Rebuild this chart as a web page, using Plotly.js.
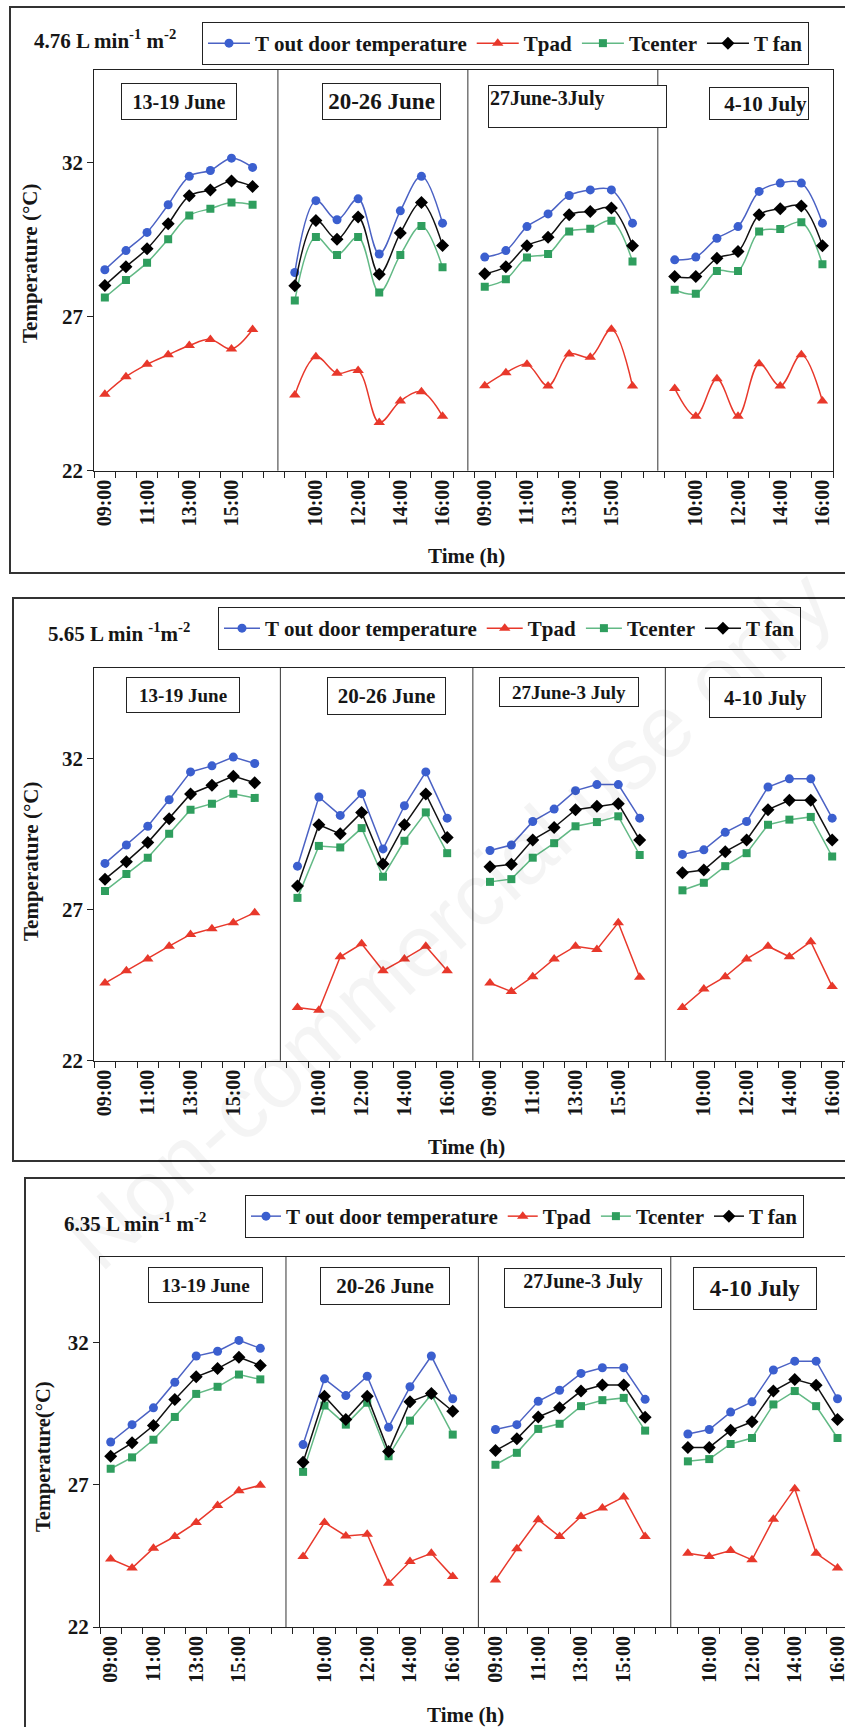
<!DOCTYPE html>
<html>
<head>
<meta charset="utf-8">
<script src="https://cdn.plot.ly/plotly-3.0.1.min.js"></script>
<style>html,body{margin:0;padding:0;background:#fff;}#chart{width:845px;height:1727px;}</style>
</head>
<body>
<div id="chart"></div>
<script>
// ---------------- DATA ----------------
const hours = ['09:00','10:00','11:00','12:00','13:00','14:00','15:00','16:00'];
const seriesNames = ['T out door temperature','Tpad','Tcenter','T fan'];
const panelTitles = [
  '4.76 L min<sup>-1</sup> m<sup>-2</sup>',
  '5.65 L min <sup>-1</sup>m<sup>-2</sup>',
  '6.35 L min<sup>-1</sup> m<sup>-2</sup>'
];
const weekLabels1 = ['13-19 June','20-26 June','27June-3July','4-10 July'];
const weekLabels2 = ['13-19 June','20-26 June','27June-3 July','4-10 July'];
const weekLabels3 = ['13-19 June','20-26 June','27June-3 July','4-10 July'];
const yTitles = ['Temperature (°C)','Temperature (°C)','Temperature(°C)'];
const xTitle = 'Time (h)';
const yTicks = [22, 27, 32];

// Panel 1 : 4.76 L min-1 m-2  (each row = one week, 09:00..16:00)
const p1_out = [
  [28.52,29.14,29.73,30.63,31.55,31.74,32.14,31.84],
  [28.43,30.76,30.14,30.82,29.03,30.43,31.55,30.03],
  [28.93,29.14,29.92,30.33,30.93,31.11,31.11,30.03],
  [28.84,28.93,29.54,29.92,31.06,31.33,31.33,30.03]];
const p1_pad = [
  [24.48,25.05,25.45,25.76,26.06,26.26,25.95,26.58],
  [24.46,25.70,25.16,25.25,23.56,24.26,24.56,23.77],
  [24.76,25.18,25.45,24.75,25.79,25.68,26.59,24.75],
  [24.67,23.77,24.98,23.77,25.47,24.75,25.76,24.26]];
const p1_center = [
  [27.62,28.19,28.75,29.51,30.28,30.50,30.70,30.63],
  [27.52,29.58,29.00,29.58,27.78,29.00,29.94,28.60],
  [27.97,28.21,28.92,29.03,29.76,29.85,30.11,28.79],
  [27.87,27.74,28.48,28.48,29.76,29.84,30.06,28.70]];
const p1_fan = [
  [28.01,28.62,29.20,30.01,30.92,31.11,31.40,31.22],
  [28.00,30.12,29.51,30.23,28.37,29.71,30.70,29.31],
  [28.39,28.62,29.30,29.57,30.30,30.41,30.52,29.30],
  [28.30,28.30,28.89,29.11,30.30,30.50,30.59,29.30]];

// Panel 2 : 5.65 L min-1 m-2
const p2_out = [
  [28.53,29.14,29.76,30.64,31.56,31.76,32.05,31.84],
  [28.44,30.73,30.12,30.84,29.01,30.44,31.56,30.03],
  [28.96,29.14,29.92,30.33,30.94,31.14,31.14,30.03],
  [28.83,28.98,29.56,29.92,31.06,31.33,31.33,30.03]];
const p2_pad = [
  [24.57,24.98,25.37,25.79,26.18,26.37,26.57,26.90],
  [23.76,23.67,25.44,25.87,24.98,25.37,25.79,24.98],
  [24.57,24.29,24.78,25.37,25.79,25.68,26.57,24.76],
  [23.76,24.37,24.78,25.37,25.79,25.44,25.94,24.46]];
const p2_center = [
  [27.62,28.18,28.72,29.51,30.31,30.51,30.84,30.70],
  [27.39,29.11,29.06,29.70,28.09,29.28,30.22,28.87],
  [27.92,28.01,28.72,29.20,29.76,29.90,30.09,28.81],
  [27.64,27.89,28.44,28.87,29.81,29.98,30.07,28.76]];
const p2_fan = [
  [28.01,28.59,29.22,30.01,30.83,31.12,31.42,31.20],
  [27.78,29.81,29.51,30.22,28.51,29.81,30.83,29.39],
  [28.42,28.50,29.31,29.72,30.31,30.42,30.51,29.31],
  [28.22,28.31,28.92,29.31,30.31,30.62,30.62,29.31]];

// Panel 3 : 6.35 L min-1 m-2
const p3_out = [
  [28.50,29.11,29.70,30.60,31.52,31.69,32.07,31.79],
  [28.41,30.72,30.13,30.81,29.02,30.44,31.52,30.02],
  [28.94,29.11,29.93,30.32,30.91,31.11,31.11,30.00],
  [28.78,28.94,29.55,29.91,31.03,31.34,31.34,30.02]];
const p3_pad = [
  [24.39,24.07,24.77,25.18,25.67,26.27,26.79,26.98],
  [24.48,25.67,25.20,25.26,23.54,24.30,24.59,23.77],
  [23.65,24.75,25.77,25.18,25.88,26.18,26.57,25.18],
  [24.59,24.48,24.69,24.36,25.79,26.86,24.59,24.07]];
const p3_center = [
  [27.56,27.96,28.58,29.38,30.19,30.44,30.87,30.70],
  [27.45,29.78,29.11,29.88,28.00,29.25,30.17,28.76],
  [27.70,28.12,28.96,29.14,29.76,29.97,30.05,28.90],
  [27.82,27.90,28.43,28.64,29.82,30.29,29.76,28.64]];
const p3_fan = [
  [28.00,28.47,29.08,29.99,30.79,31.08,31.48,31.19],
  [27.79,30.11,29.29,30.11,28.17,29.91,30.20,29.58],
  [28.20,28.61,29.38,29.70,30.29,30.50,30.50,29.37],
  [28.31,28.31,28.91,29.21,30.29,30.70,30.49,29.29]];

// ---------------- STYLE / LAYOUT ----------------
const W = 845, H = 1727;
const fx = p => p / W;
const fy = p => 1 - p / H;
const SERIF = 'Liberation Serif, Times New Roman, serif';
const INK = '#161616';

const styles = [
  {color:'#3b5fcf', line:'#4b62c4', symbol:'circle', size:9},
  {color:'#e8382b', line:'#e8382b', symbol:'triangle-up', size:10},
  {color:'#2f9e5e', line:'#62b985', symbol:'square', size:8},
  {color:'#000000', line:'#111111', symbol:'diamond', size:10}
];

const panels = [
  {data:[p1_out,p1_pad,p1_center,p1_fan], weeks:weekLabels1, spline:true,
   xdom:[94.3,833], xrange:[-0.5,34.5], ydom:[70,470.7],
   frame:[10,7,880,573], title:{x:32,y:40},
   ytitle:{x:30,y:264,size:21}, xtitle:{x:466,y:556},
   legend:{x:202,y:22,iw:42},
   boxes:[[179,101.5,116,37,20,'center','middle'],[381.5,101.5,119,37,23,'center','middle'],
          [577.5,106.5,179,43,20,'left','top'],[759,103.5,100,33,21,'right','middle']]},
  {data:[p2_out,p2_pad,p2_center,p2_fan], weeks:weekLabels2, spline:false,
   xdom:[94.3,845], xrange:[-0.5,34.6], ydom:[668,1060.7],
   frame:[13,598,880,1161], title:{x:46,y:632},
   ytitle:{x:31,y:862,size:21}, xtitle:{x:466,y:1147},
   legend:{x:218,y:607,iw:36},
   boxes:[[183,695,114,36,19,'center','middle'],[386.5,696,119,38,21,'center','middle'],
          [569,692,140,30,19,'center','middle'],[765.5,697.5,113,41,21,'center','middle']]},
  {data:[p3_out,p3_pad,p3_center,p3_fan], weeks:weekLabels3, spline:false,
   xdom:[100,845], xrange:[-0.5,34.35], ydom:[1257,1627],
   frame:[25,1178,880,1800], title:{x:62,y:1222},
   ytitle:{x:43,y:1457,size:20.5}, xtitle:{x:465,y:1715},
   legend:{x:245,y:1195,iw:30},
   boxes:[[205.5,1285,115,36,19,'center','middle'],[385,1286,130,38,21,'center','middle'],
          [583,1288,158,40,20,'center','top'],[755,1288.5,124,43,23,'center','middle']]}
];

// category layout built from the data: 8 hours per week, one empty slot between weeks
const perWeek = hours.length;
const slot = perWeek + 1;
const nWeeks = p1_out.length;
const nSlots = nWeeks * slot - 1;

function flatten(weeks) {
  const xs = [], ys = [];
  weeks.forEach((w, wi) => {
    w.forEach((v, hi) => { xs.push(wi * slot + hi); ys.push(v); });
    if (wi < weeks.length - 1) { xs.push(wi * slot + perWeek); ys.push(null); }
  });
  return {xs, ys};
}

const tickvals = [], ticktext = [];
for (let i = 0; i < nSlots; i += 2) {
  const h = i % slot;
  if (h < perWeek) { tickvals.push(i); ticktext.push(hours[h]); }
}
const boundaries = [];
for (let i = 0; i <= nSlots; i++) boundaries.push(i - 0.5);

const traces = [];
const layout = {
  width: W, height: H,
  margin: {l:0, r:0, t:0, b:0, autoexpand:false},
  paper_bgcolor: '#ffffff', plot_bgcolor: '#ffffff',
  showlegend: true,
  annotations: [], shapes: []
};

// watermark
layout.annotations.push({
  text: 'Non-commercial use only', xref:'paper', yref:'paper',
  x: fx(449), y: fy(920), showarrow:false, textangle:-42,
  font:{family:'Liberation Sans, Arial, sans-serif', size:88, color:'rgba(0,0,0,0.045)'}
});

panels.forEach((p, pi) => {
  const n = pi + 1;
  const xa = 'x' + (n === 1 ? '' : n), ya = 'y' + (n === 1 ? '' : n);
  const xKey = 'xaxis' + (n === 1 ? '' : n), yKey = 'yaxis' + (n === 1 ? '' : n);
  const legKey = 'legend' + (n === 1 ? '' : n);

  p.data.forEach((series, si) => {
    const f = flatten(series);
    const st = styles[si];
    traces.push({
      type:'scatter', mode:'lines+markers', name: seriesNames[si],
      x: f.xs, y: f.ys, xaxis: xa, yaxis: ya, legend: legKey,
      connectgaps:false, cliponaxis:true,
      line: {color: st.line, width: 1.5, shape: p.spline ? 'spline' : 'linear', smoothing: 1},
      marker: {color: st.color, symbol: st.symbol, size: st.size, line:{width:0}}
    });
  });

  layout[xKey] = {
    domain: [fx(p.xdom[0]), fx(p.xdom[1])], range: p.xrange, anchor: ya,
    tickmode:'array', tickvals: tickvals, ticktext: ticktext, ticks:'',
    ticklabeloverflow:'allow', automargin:false,
    tickangle:-90, tickfont:{family:SERIF, size:20, color:INK, weight:'bold'},
    minor:{tickmode:'array', tickvals: boundaries, ticks:'outside', ticklen:6, tickcolor:'#222', tickwidth:1},
    showline:true, linecolor:'#222', linewidth:1, mirror:true,
    showgrid:false, zeroline:false, fixedrange:true
  };
  layout[yKey] = {
    domain: [fy(p.ydom[1]), fy(p.ydom[0])], range:[22,35], anchor: xa, automargin:false,
    tickmode:'array', tickvals: yTicks, ticks:'outside', ticklen:6, tickcolor:'#222',
    tickfont:{family:SERIF, size:21, color:INK, weight:'bold'},
    showline:true, linecolor:'#222', linewidth:1, mirror:true,
    showgrid:false, zeroline:false, fixedrange:true
  };
  layout[legKey] = {
    x: fx(p.legend.x), y: fy(p.legend.y), xanchor:'left', yanchor:'top',
    orientation:'h', bgcolor:'#ffffff', bordercolor:'#222', borderwidth:1,
    font:{family:SERIF, size:21, color:INK, weight:'bold'}, itemwidth:p.legend.iw
  };

  // axis titles
  layout.annotations.push({text: yTitles[pi], xref:'paper', yref:'paper',
    x: fx(p.ytitle.x), y: fy(p.ytitle.y), xanchor:'center', yanchor:'middle', showarrow:false,
    textangle:-90, font:{family:SERIF, size:p.ytitle.size, color:INK, weight:'bold'}});
  layout.annotations.push({text: xTitle, xref:'paper', yref:'paper',
    x: fx(p.xtitle.x), y: fy(p.xtitle.y), xanchor:'center', yanchor:'middle', showarrow:false,
    font:{family:SERIF, size:21, color:INK, weight:'bold'}});

  // outer frame
  layout.shapes.push({type:'rect', xref:'paper', yref:'paper',
    x0: fx(p.frame[0]), x1: fx(p.frame[2]), y0: fy(p.frame[1]), y1: fy(p.frame[3]),
    line:{color:'#333', width:2}, fillcolor:'rgba(0,0,0,0)', layer:'below'});

  // week separators at the empty slots
  for (let wi = 1; wi < nWeeks; wi++) {
    const xs = wi * slot - 1 + 0.2;
    layout.shapes.push({type:'line', xref: xa, yref: ya + ' domain',
      x0: xs, x1: xs, y0: 0, y1: 1, line:{color:'#333', width:1}});
  }

  // panel title
  layout.annotations.push({text: panelTitles[pi], xref:'paper', yref:'paper',
    x: fx(p.title.x), y: fy(p.title.y), xanchor:'left', yanchor:'middle', showarrow:false,
    font:{family:SERIF, size:21, color:INK, weight:'bold'}});

  // week boxes
  p.boxes.forEach((b, bi) => {
    layout.annotations.push({text: p.weeks[bi], xref:'paper', yref:'paper',
      x: fx(b[0]), y: fy(b[1]), xanchor:'center', yanchor:'middle', showarrow:false,
      width: b[2] - 4, height: b[3] - 4, align: b[5], valign: b[6],
      bgcolor:'#ffffff', bordercolor:'#222', borderwidth:1, borderpad:1,
      font:{family:SERIF, size:b[4], color:INK, weight:'bold'}});
  });
});

Plotly.newPlot('chart', traces, layout, {displayModeBar:false, staticPlot:true});
</script>
</body>
</html>
